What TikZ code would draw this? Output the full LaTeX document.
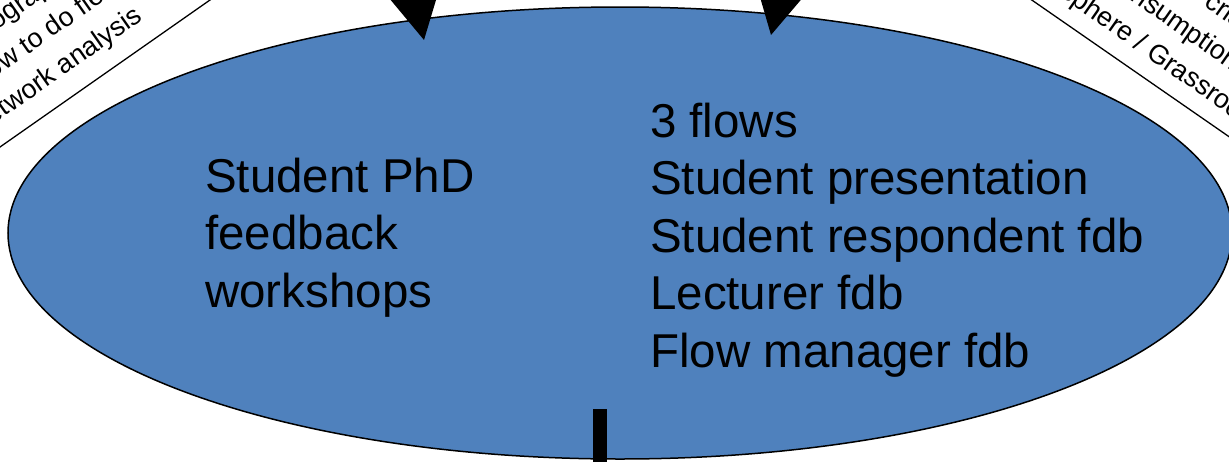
\documentclass[tikz,border=0pt]{standalone}
\usepackage{fontspec}
\setmainfont{Liberation Sans}
\usetikzlibrary{shapes.geometric,arrows.meta}
\definecolor{ellblue}{HTML}{4F81BD}
\tikzset{
  bigtext/.style={font=\fontsize{47.5}{57.5}\selectfont, align=left, inner sep=0pt, anchor=base west},
  diagtext/.style={font=\fontsize{27}{37.5}\selectfont, inner sep=0pt},
  borderline/.style={line width=1.3pt, draw=black},
  bigarrow/.style={line width=2pt, -{Triangle[length=60pt,width=64pt]}},
}
\begin{document}
\begin{tikzpicture}[x=1pt,y=-1pt]
\useasboundingbox (0,0) rectangle (1229,461);
\clip (0,0) rectangle (1229,461);
% diagonal boxes edges
\coordinate (la) at (-60,189);
\coordinate (lb) at (270,-42);
\coordinate (ra) at (1000,-22);
\coordinate (rb) at (1280,172);
\draw[borderline] (la) -- (lb);
\draw[borderline] (ra) -- (rb);
% left rotated text
\node[diagtext, rotate=35, anchor=base west] (l1) at (-49,62.5) {Ethnography};
\node[diagtext, rotate=35, anchor=base west] (l2) at (-19.7,88) {how to do fieldwork};
\node[diagtext, rotate=35, anchor=base east] (l3) at (144,19.5) {network analysis};
% right rotated text
\node[diagtext, rotate=-35, anchor=base west] (r1) at (1100,-67) {Economic crisis};
\node[diagtext, rotate=-35, anchor=base west] (r2) at (1032.6,-68.6) {Critical consumption};
\node[diagtext, rotate=-35, anchor=base west] (r3) at (992.7,-50.8) {Public sphere / Grassroots};
% ellipse
\node[ellipse, draw=black, line width=1.5pt, fill=ellblue, minimum width=1224pt, minimum height=452pt, inner sep=0pt] (E) at (620,233) {};
% texts
\node[bigtext] (tl) at (205,307) {Student PhD\\feedback\\workshops};
\node[bigtext] (tr) at (650,367) {3 flows\\Student presentation\\Student respondent fdb\\Lecturer fdb\\Flow manager fdb};
% arrows
\coordinate (a1s) at (404,-58);
\coordinate (a1e) at (424,40);
\coordinate (a2s) at (792,-63);
\coordinate (a2e) at (771,35);
\draw[bigarrow] (a1s) -- (a1e);
\draw[bigarrow] (a2s) -- (a2e);
% bottom bar
\coordinate (bs) at (600,409);
\coordinate (be) at (600,480);
\draw[line width=14pt] (bs) -- (be);
\end{tikzpicture}
\end{document}
